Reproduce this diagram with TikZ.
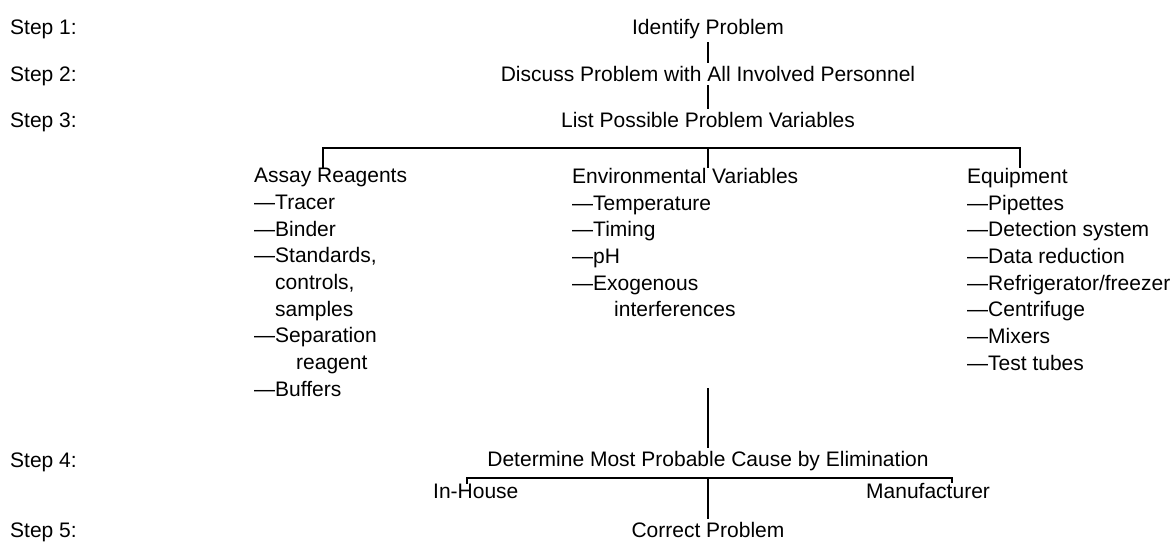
\documentclass[tikz,border=0pt]{standalone}
\usepackage{fontspec}
\setmainfont{Liberation Sans}
\usetikzlibrary{positioning}

\tikzset{
  lbl/.style={font=\fontsize{21}{26.7}\selectfont, inner sep=3pt, anchor=mid},
  steplbl/.style={lbl, anchor=mid west, inner sep=0pt},
  col/.style={font=\fontsize{21}{26.7}\selectfont, inner sep=0pt, anchor=north west, align=left},
  conn/.style={line width=2.4pt},
}

\begin{document}
\begin{tikzpicture}[x=1pt, y=-1pt]
  \useasboundingbox (0,0) rectangle (1173,544);
  % step labels
  \node[steplbl] (s1) at (10,32) {Step 1:};
  \node[steplbl] (s2) at (10,79) {Step 2:};
  \node[steplbl] (s3) at (10,125) {Step 3:};
  \node[steplbl] (s4) at (10,465) {Step 4:};
  \node[steplbl] (s5) at (10,535) {Step 5:};

  % main flow
  \node[lbl] (ident) at (708,32) {Identify Problem};
  \node[lbl] (discuss) at (708,79) {Discuss Problem with All Involved Personnel};
  \node[lbl] (list) at (708,125) {List Possible Problem Variables};
  \node[lbl] (determ) at (708,464) {Determine Most Probable Cause by Elimination};
  \node[lbl, anchor=mid west, inner sep=0pt] (inhouse) at (433,496) {In-House};
  \node[lbl, anchor=mid west, inner sep=0pt] (manuf) at (866,496) {Manufacturer};
  \node[lbl] (correct) at (708,535) {Correct Problem};

  % variable lists
  \node[col] (assay) at (254,168) {Assay Reagents\\
    ---Tracer\\
    ---Binder\\
    ---Standards,\\
    \phantom{---}controls,\\
    \phantom{---}samples\\
    ---Separation\\
    \phantom{------}reagent\\
    ---Buffers};
  \node[col] (envir) at (572,168) {Environmental Variables\\
    ---Temperature\\
    ---Timing\\
    ---pH\\
    ---Exogenous\\
    \phantom{------}interferences};
  \node[col] (equip) at (967,168) {Equipment\\
    ---Pipettes\\
    ---Detection system\\
    ---Data reduction\\
    ---Refrigerator/freezer\\
    ---Centrifuge\\
    ---Mixers\\
    ---Test tubes};

  \coordinate (b3) at (708,148);
  \coordinate (v3) at (708,388);
  \coordinate (b4) at (708,478);

  \draw[conn] (ident) -- (discuss);
  \draw[conn] (discuss) -- (list);
  \draw[conn] ([xshift=69pt]assay.north west) |- (b3) -| ([xshift=53pt]equip.north west);
  \draw[conn] (b3) -- (b3 |- envir.north);
  \draw[conn] (v3) -- (determ);
  \draw[conn] ([xshift=34pt]inhouse.north west) |- (b4) -| ([xshift=86pt]manuf.north west);
  \draw[conn] (b4) -- (correct);
\end{tikzpicture}
\end{document}
